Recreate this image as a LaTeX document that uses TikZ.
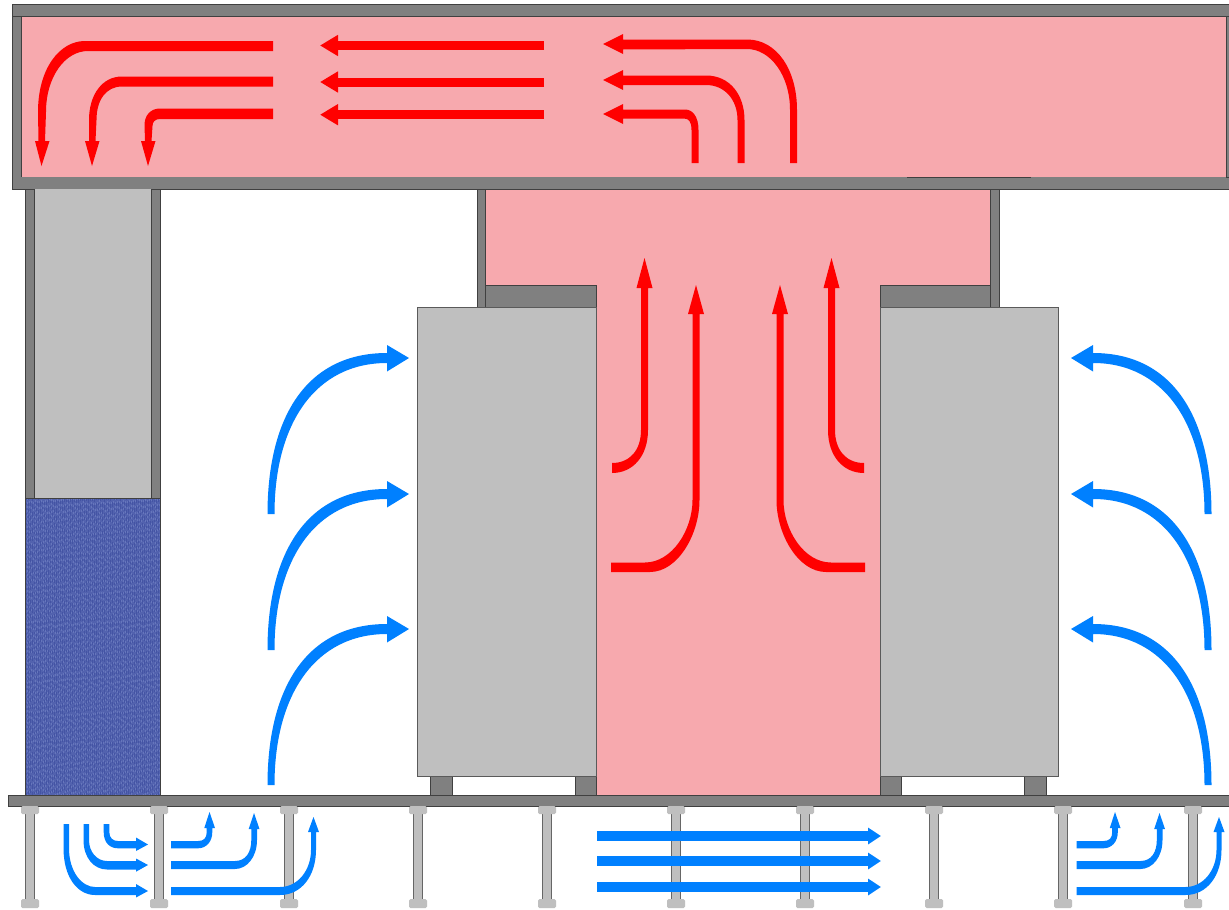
\documentclass[tikz,border=0pt]{standalone}
\usetikzlibrary{arrows.meta}
\definecolor{pinkair}{HTML}{F7A9AE}
\definecolor{wall}{HTML}{808080}
\definecolor{cab}{HTML}{BFBFBF}
\definecolor{edge}{HTML}{404040}
\definecolor{hot}{HTML}{FF0000}
\definecolor{cold}{HTML}{0080FF}
\definecolor{panel}{HTML}{5262AE}
\definecolor{panelb}{HTML}{4454A4}
\definecolor{panelc}{HTML}{6676BC}
\tikzset{
  air/.style={fill=pinkair,draw=none},
  wallbox/.style={fill=wall,draw=edge,line width=0.7pt},
  wallplain/.style={fill=wall,draw=none},
  edgeline/.style={draw=edge,line width=0.8pt},
  cabbox/.style={fill=cab,draw=wall!70!black,line width=1pt},
  hotfill/.style={fill=hot,draw=none},
  coldfill/.style={fill=cold,draw=none},
  midcold/.style={draw=cold,line width=10pt,-{Triangle[length=13pt,width=16pt]}},
  hotline/.style={draw=hot,line width=9pt,-{Triangle[length=18pt,width=20pt]}},
}
\begin{document}
\begin{tikzpicture}[x=1pt,y=-1pt]
\useasboundingbox (0,0) rectangle (1229,910);
\fill[white] (0,0) rectangle (1229,910);
% air
\fill[air] (21,16) rectangle (1229,178);
\fill[air] (485,189) rectangle (990,286);
\fill[air] (596,285) rectangle (880,796);
% top duct
\draw[wallbox] (12,4) rectangle (1229,16);
\draw[wallbox] (12,16) rectangle (21,177);
\fill[wallplain] (12,177) rectangle (1229,189);
\draw[draw=edge,line width=0.7pt] (12,189) -- (1229,189) (12,177) -- (12,189);
\draw[edgeline] (907,177.3) -- (1031,177.3);
\draw[wallbox] (1226,16) rectangle (1229,177);
% left column
\fill[cab] (34,189) rectangle (151,498);
\draw[wallbox] (25,189) rectangle (34,498);
\draw[wallbox] (151,189) rectangle (160,498);
\fill[panel] (25,498) rectangle (160,795);
\foreach \i in {0,...,66}{
  \pgfmathsetmacro{\xx}{26+2*\i}
  \pgfmathsetmacro{\ph}{mod(\i*7,11)}
  \pgfmathsetmacro{\la}{2+mod(\i*5,4)}
  \draw[panelb,line width=0.9pt,dash pattern=on \la pt off 3pt,dash phase=\ph pt] (\xx,498) -- (\xx,795);
  \draw[panelc,line width=0.9pt,dash pattern=on 2pt off \la pt,dash phase=\ph pt] (\xx+1,498) -- (\xx+1,795);
}
\draw[edge,line width=0.7pt] (25,498) rectangle (160,795);
% middle duct
\draw[wallbox] (477,189) rectangle (485,307);
\draw[wallbox] (990,189) rectangle (999,307);
\draw[wallbox] (485,285) rectangle (596,307);
\draw[wallbox] (880,285) rectangle (990,307);
% feet
\foreach \a/\b in {430/452,575/596,880/901,1024/1046}{
  \draw[wallbox] (\a,776) rectangle (\b,795);
}
% cabinets
\draw[cabbox] (417,307) rectangle (596,776);
\draw[cabbox] (880,307) rectangle (1058,776);
% floor
\draw[wallbox] (8,795) rectangle (1229,806);
% pedestals
\foreach \x in {30,159,289,418,547,676,805,934,1063,1193}{
  \fill[cab] (\x-4.8,813) rectangle (\x+4.8,900);
  \draw[draw=wall!80!black,line width=0.9pt] (\x-4.8,813) -- (\x-4.8,900) (\x+4.8,813) -- (\x+4.8,900);
  \fill[cab,rounded corners=1.5pt] (\x-9,806) rectangle (\x+9,814);
  \fill[cab,rounded corners=1.5pt] (\x-9,899) rectangle (\x+9,908);
}
% big cold arrows
\foreach \d in {0,-135,-271}{
  \fill[coldfill] (267.5,785+\d) .. controls (267.5,690+\d) and (305,624+\d) .. (387,624+\d) -- (387,616+\d) -- (409,629+\d) -- (387,642.5+\d) -- (387,634+\d) .. controls (315,634+\d) and (274.5,695+\d) .. (274.5,785+\d) -- cycle;
  \fill[coldfill] (1211.5,785+\d) .. controls (1211.5,690+\d) and (1174,624+\d) .. (1093,624+\d) -- (1093,616+\d) -- (1071,629+\d) -- (1093,642.5+\d) -- (1093,634+\d) .. controls (1164,634+\d) and (1204.5,695+\d) .. (1204.5,785+\d) -- cycle;
}
% central cold arrows
\foreach \y in {836,861,887}{\draw[midcold] (597,\y) -- (881,\y);}
% lower left cold
\fill[coldfill] (63.5,824) -- (63.5,848) .. controls (63.5,878) and (78,895) .. (95,895) -- (136,895) -- (136,897.5) -- (148,891) -- (136,884) -- (136,887) -- (95,887) .. controls (82,887) and (69,872) .. (69,848) -- (69,824) -- cycle;
\fill[coldfill] (83.5,824) -- (83.5,840) .. controls (83.5,858) and (94,869.5) .. (107,869.5) -- (136,869.5) -- (136,871.7) -- (148,865) -- (136,858.5) -- (136,861) -- (107,861) .. controls (97,861) and (89,852) .. (89,840) -- (89,824) -- cycle;
\fill[coldfill] (103.7,824) -- (103.7,832) .. controls (103.7,843) and (110,848.3) .. (118,848.3) -- (136,848.3) -- (136,851) -- (148,844.5) -- (136,837.5) -- (136,841) -- (118,841) .. controls (113,841) and (109.3,838) .. (109.3,832) -- (109.3,824) -- cycle;
% lower right groups
\foreach \dx in {0,905.5}{
\begin{scope}[xshift=\dx pt]
  \fill[coldfill] (171,841) -- (198,841) .. controls (204,841) and (206.7,838) .. (206.7,832) -- (206.7,828) -- (204.3,828) -- (209.5,812) -- (215,828) -- (212.3,828) -- (212.3,832) .. controls (212.3,842) and (206,848.3) .. (198,848.3) -- (171,848.3) -- cycle;
  \fill[coldfill] (171,861) -- (235,861) .. controls (246,861) and (251.3,852) .. (251.3,840) -- (251.3,829) -- (248.7,829) -- (254,813) -- (259.5,829) -- (257,829) -- (257,840) .. controls (257,857) and (247,869) .. (235,869) -- (171,869) -- cycle;
  \fill[coldfill] (171,887) -- (280,887) .. controls (298,887) and (311,870) .. (311,850) -- (311,832) -- (308,832) -- (313.5,817) -- (319,832) -- (316,832) -- (316,850) .. controls (316,875) and (302,895) .. (280,895) -- (171,895) -- cycle;
\end{scope}
}
% top middle hot arrows
\foreach \y in {45.5,82,114.7}{\draw[hotline] (544,\y) -- (320,\y);}
% top left hot arrows
\fill[hotfill] (273,41) -- (85,41) .. controls (60,41) and (38,68) .. (38,112) -- (38.5,141) -- (35,141) -- (41.5,166) -- (49.5,141) -- (45,141) -- (46,112) .. controls (46,77) and (65,51) .. (88,51) -- (273,51) -- cycle;
\fill[hotfill] (273,76.5) -- (122,76.5) .. controls (102,76.5) and (89,95) .. (89,120) -- (89,141) -- (85,141) -- (92,166) -- (99.5,141) -- (95.5,141) -- (96.5,120) .. controls (96.5,100) and (106,86.5) .. (122,86.5) -- (273,86.5) -- cycle;
\fill[hotfill] (273,108.5) -- (160,108.5) .. controls (151,108.5) and (144.5,115) .. (144.5,125) -- (145,141) -- (141,141) -- (148,166) -- (155.5,141) -- (151.5,141) -- (152.5,126) .. controls (152.5,122) and (155,119) .. (160,119) -- (273,119) -- cycle;
% top right hot arrows
\fill[hotfill] (797,163) -- (790,163) -- (790,110) .. controls (790,75) and (770,49) .. (747,49) -- (623,49.5) -- (623,54) -- (603,44) -- (623,34) -- (623,39.5) -- (747,39.5) .. controls (777,39.5) and (797,70) .. (797,110) -- cycle;
\fill[hotfill] (744.5,163) -- (737.5,163) -- (737.5,120) .. controls (737.5,100) and (725,85) .. (706,85) -- (623,85) -- (623,90) -- (603,80) -- (623,70) -- (623,75.5) -- (706,75.5) .. controls (730,75.5) and (744.5,95) .. (744.5,120) -- cycle;
\fill[hotfill] (698.5,163) -- (691.5,163) -- (691.5,130) .. controls (691.5,122) and (689,118.5) .. (684,118.5) -- (623,118.5) -- (623,124) -- (603,114) -- (623,104) -- (623,109.5) -- (685,109.5) .. controls (693,109.5) and (698.5,117) .. (698.5,130) -- cycle;
% central hot arrows
\fill[hotfill] (612,473) -- (612,463) .. controls (630,463) and (641,450) .. (641,430) -- (641,288) -- (636.5,288) -- (644.5,258) -- (652.5,288) -- (648,288) -- (648,430) .. controls (648,456) and (633,473) .. (612,473) -- cycle;
\fill[hotfill] (611,572) -- (611,562.5) -- (645,562.5) .. controls (672,562.5) and (692.5,530) .. (692.5,500) -- (692.5,314) -- (688,314) -- (696,285) -- (704,314) -- (699.5,314) -- (699.5,500) .. controls (699.5,534) and (678,572) .. (650,572) -- cycle;
\fill[hotfill] (865,572) -- (865,562.5) -- (831,562.5) .. controls (804,562.5) and (783.5,530) .. (783.5,500) -- (783.5,314) -- (788,314) -- (780,285) -- (772,314) -- (776.5,314) -- (776.5,500) .. controls (776.5,534) and (798,572) .. (826,572) -- cycle;
\fill[hotfill] (864,473) -- (864,463) .. controls (846,463) and (835,450) .. (835,430) -- (835,288) -- (839.5,288) -- (831.5,258) -- (823.5,288) -- (828,288) -- (828,430) .. controls (828,456) and (843,473) .. (864,473) -- cycle;
\end{tikzpicture}
\end{document}
